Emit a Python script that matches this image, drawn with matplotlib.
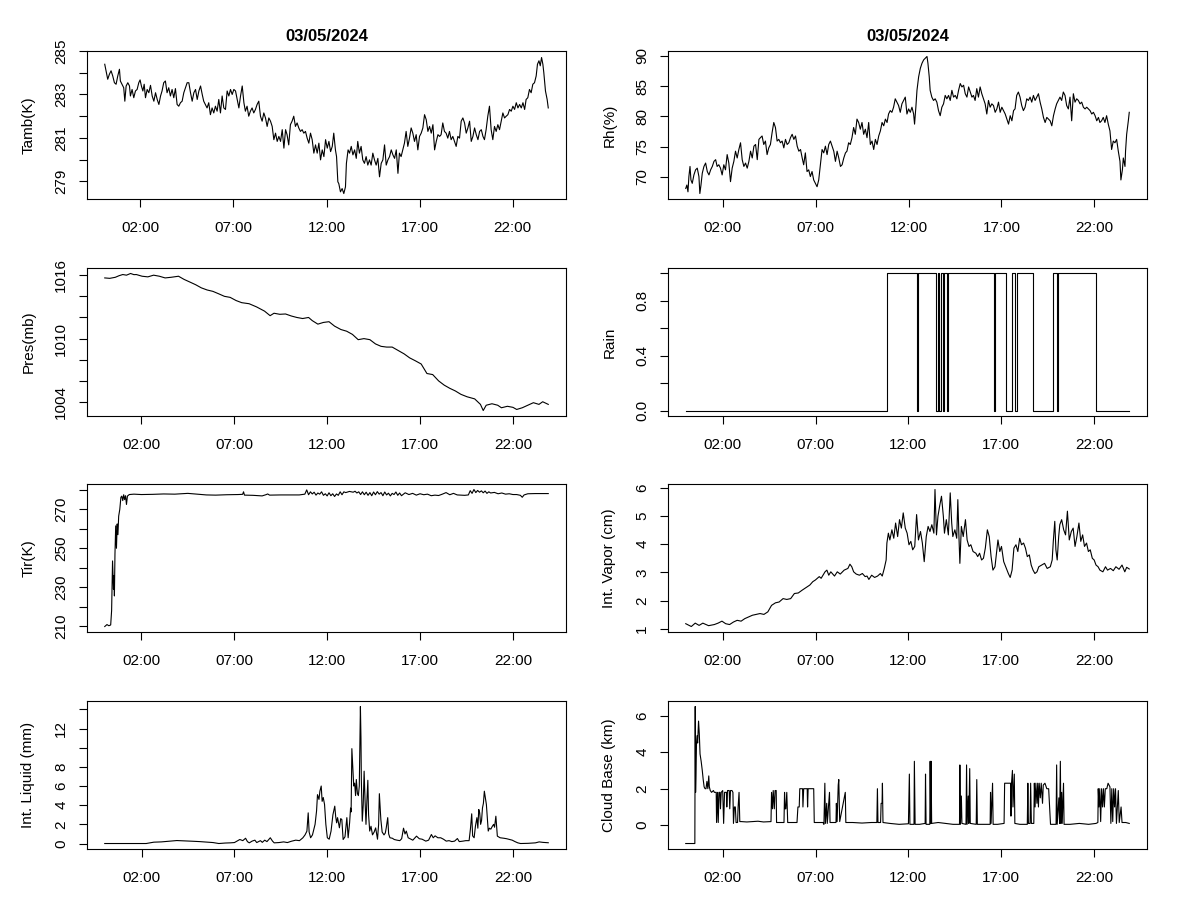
from __future__ import annotations

import matplotlib

matplotlib.use("Agg")
import matplotlib.pyplot as plt

DATE_TITLE = "03/05/2024"
HOUR_TICKS = [2, 7, 12, 17, 22]
HOUR_LABELS = ["02:00", "07:00", "12:00", "17:00", "22:00"]

# ambient temperature (K): (hour, value)
tamb_points = [
    (0.08, 284.39), (0.17, 284.01), (0.24, 283.70), (0.33, 283.93), (0.42, 284.09), (0.51, 283.85),
    (0.60, 283.54), (0.69, 283.47), (0.78, 283.85), (0.87, 284.16), (0.92, 283.62), (1.01, 283.47),
    (1.10, 283.31), (1.16, 282.69), (1.23, 283.39), (1.32, 283.54), (1.41, 283.39), (1.46, 282.93),
    (1.55, 283.23), (1.64, 282.85), (1.73, 283.16), (1.82, 283.23), (1.91, 283.54), (1.98, 283.67),
    (2.05, 283.39), (2.13, 283.16), (2.20, 283.47), (2.27, 282.85), (2.36, 283.23), (2.45, 283.08),
    (2.54, 283.42), (2.63, 282.93), (2.72, 282.69), (2.81, 283.08), (2.90, 282.77), (2.99, 282.54),
    (3.08, 282.93), (3.16, 283.16), (3.25, 283.54), (3.34, 283.62), (3.43, 283.08), (3.52, 283.31),
    (3.61, 282.93), (3.70, 283.23), (3.79, 282.85), (3.88, 283.27), (3.97, 282.54), (4.06, 282.46),
    (4.15, 282.62), (4.24, 282.69), (4.33, 283.08), (4.42, 283.31), (4.51, 283.54), (4.60, 283.54),
    (4.69, 283.08), (4.78, 282.69), (4.87, 283.08), (4.96, 283.23), (5.05, 282.77), (5.14, 283.16),
    (5.23, 283.39), (5.32, 283.00), (5.40, 282.69), (5.49, 282.54), (5.58, 282.38), (5.67, 282.62),
    (5.76, 282.07), (5.85, 282.38), (5.94, 282.15), (6.03, 282.46), (6.12, 282.23), (6.21, 282.77),
    (6.30, 282.15), (6.39, 282.93), (6.48, 282.38), (6.57, 282.31), (6.66, 283.16), (6.75, 282.93),
    (6.84, 283.23), (6.93, 283.00), (7.02, 283.23), (7.11, 283.16), (7.20, 282.77), (7.29, 282.38),
    (7.38, 282.93), (7.47, 283.39), (7.56, 282.62), (7.64, 282.23), (7.73, 282.46), (7.82, 282.00),
    (7.91, 282.23), (8.00, 282.38), (8.09, 282.15), (8.18, 282.31), (8.27, 282.54), (8.36, 282.69),
    (8.45, 282.00), (8.54, 281.77), (8.63, 282.15), (8.72, 281.92), (8.81, 281.53), (8.90, 281.92),
    (8.99, 281.77), (9.08, 281.53), (9.17, 280.92), (9.26, 281.22), (9.35, 280.84), (9.44, 281.07),
    (9.53, 280.84), (9.62, 281.38), (9.71, 280.53), (9.80, 281.38), (9.88, 281.15), (9.97, 280.68),
    (10.06, 281.61), (10.15, 281.77), (10.24, 282.00), (10.33, 281.53), (10.42, 281.69), (10.51, 281.46),
    (10.60, 281.30), (10.69, 281.38), (10.78, 281.22), (10.87, 281.30), (10.96, 280.99), (11.05, 280.76),
    (11.14, 281.22), (11.23, 280.92), (11.32, 280.30), (11.41, 280.68), (11.50, 280.30), (11.59, 280.76),
    (11.68, 279.99), (11.77, 280.45), (11.86, 280.14), (11.95, 280.92), (12.04, 280.53), (12.13, 280.84),
    (12.22, 280.37), (12.31, 280.61), (12.39, 281.22), (12.48, 280.45), (12.54, 280.14), (12.61, 278.98),
    (12.66, 278.90), (12.75, 278.52), (12.84, 278.67), (12.93, 278.44), (13.02, 278.75), (13.07, 279.83),
    (13.16, 280.45), (13.24, 280.30), (13.33, 280.61), (13.42, 280.22), (13.51, 280.45), (13.60, 280.06),
    (13.68, 280.84), (13.77, 280.30), (13.86, 280.61), (13.95, 279.99), (14.04, 279.83), (14.13, 280.14),
    (14.22, 279.75), (14.31, 279.99), (14.40, 279.75), (14.49, 280.30), (14.58, 279.99), (14.67, 279.75),
    (14.76, 280.06), (14.85, 279.21), (14.94, 279.83), (15.03, 279.99), (15.12, 280.68), (15.21, 279.75),
    (15.30, 279.99), (15.39, 280.14), (15.48, 280.45), (15.57, 280.22), (15.66, 280.06), (15.75, 280.45),
    (15.84, 279.37), (15.92, 280.30), (16.01, 280.14), (16.10, 280.45), (16.19, 280.76), (16.28, 281.30),
    (16.37, 280.61), (16.46, 280.99), (16.55, 281.46), (16.64, 281.22), (16.73, 280.84), (16.82, 281.15),
    (16.91, 280.45), (17.00, 281.07), (17.09, 281.22), (17.18, 281.46), (17.27, 282.07), (17.36, 281.84),
    (17.45, 281.30), (17.54, 281.53), (17.63, 281.22), (17.72, 281.61), (17.81, 280.45), (17.90, 280.84),
    (17.99, 281.15), (18.08, 281.07), (18.16, 281.15), (18.25, 281.69), (18.34, 281.30), (18.43, 281.22),
    (18.52, 280.99), (18.61, 281.30), (18.70, 280.92), (18.79, 281.07), (18.88, 280.84), (18.97, 280.61),
    (19.06, 281.07), (19.15, 280.99), (19.24, 281.77), (19.33, 281.92), (19.42, 281.69), (19.51, 281.22),
    (19.60, 281.46), (19.69, 281.77), (19.78, 280.84), (19.87, 281.07), (19.96, 281.46), (20.05, 281.15),
    (20.14, 280.92), (20.23, 281.30), (20.32, 281.38), (20.41, 281.07), (20.49, 280.92), (20.58, 281.38),
    (20.67, 282.00), (20.76, 282.46), (20.85, 281.38), (20.94, 280.92), (21.03, 281.53), (21.12, 281.30),
    (21.21, 281.61), (21.30, 281.38), (21.39, 281.77), (21.48, 282.15), (21.57, 281.92), (21.66, 282.00),
    (21.75, 282.07), (21.84, 282.31), (21.93, 282.23), (22.02, 282.46), (22.11, 282.31), (22.20, 282.62),
    (22.29, 282.38), (22.38, 282.54), (22.47, 282.38), (22.56, 282.62), (22.65, 282.31), (22.73, 282.77),
    (22.82, 282.85), (22.91, 283.23), (23.00, 283.08), (23.09, 283.47), (23.18, 283.54), (23.27, 283.85),
    (23.34, 284.39), (23.42, 284.55), (23.49, 284.32), (23.56, 284.70), (23.63, 284.39), (23.68, 284.01),
    (23.77, 283.16), (23.86, 282.77), (23.92, 282.38),
]

# relative humidity (%): (hour, value)
rh_points = [
    (0.00, 68.10), (0.06, 68.66), (0.12, 67.54), (0.17, 70.06), (0.23, 71.73), (0.28, 69.50),
    (0.35, 68.94), (0.44, 70.33), (0.53, 71.17), (0.62, 71.45), (0.71, 70.06), (0.76, 67.26),
    (0.82, 68.66), (0.89, 70.61), (0.98, 71.73), (1.07, 72.29), (1.16, 70.89), (1.25, 70.33),
    (1.34, 71.17), (1.43, 71.73), (1.52, 72.57), (1.61, 72.85), (1.69, 71.73), (1.78, 72.01),
    (1.87, 71.45), (1.96, 70.33), (2.05, 72.01), (2.14, 71.17), (2.23, 73.69), (2.32, 72.29),
    (2.41, 69.22), (2.50, 71.45), (2.59, 72.57), (2.68, 74.25), (2.77, 73.13), (2.86, 74.53),
    (2.95, 75.64), (3.04, 72.85), (3.13, 71.73), (3.22, 72.29), (3.31, 71.45), (3.40, 72.57),
    (3.49, 74.25), (3.58, 73.13), (3.67, 75.08), (3.76, 75.36), (3.85, 72.85), (3.94, 76.20),
    (4.02, 76.48), (4.11, 76.76), (4.20, 75.36), (4.29, 75.92), (4.38, 73.69), (4.47, 74.80),
    (4.56, 75.36), (4.65, 77.32), (4.74, 78.99), (4.83, 78.16), (4.92, 75.92), (5.01, 76.20),
    (5.10, 75.64), (5.19, 75.92), (5.28, 74.80), (5.37, 76.20), (5.46, 75.36), (5.55, 75.64),
    (5.64, 76.48), (5.73, 77.04), (5.82, 76.20), (5.91, 76.76), (6.00, 75.08), (6.09, 74.25),
    (6.18, 74.53), (6.27, 73.13), (6.35, 72.01), (6.44, 73.97), (6.53, 70.89), (6.62, 71.17),
    (6.71, 70.06), (6.80, 70.89), (6.89, 69.50), (6.98, 68.94), (7.07, 68.38), (7.16, 69.50),
    (7.25, 72.01), (7.34, 74.53), (7.43, 73.97), (7.52, 75.08), (7.61, 73.69), (7.70, 75.36),
    (7.79, 75.92), (7.88, 75.08), (7.97, 74.25), (8.06, 72.57), (8.15, 74.25), (8.24, 73.13),
    (8.33, 71.73), (8.42, 72.01), (8.51, 73.13), (8.60, 73.97), (8.68, 74.25), (8.77, 75.64),
    (8.86, 75.36), (8.95, 76.48), (9.04, 78.16), (9.13, 77.04), (9.22, 79.55), (9.31, 78.99),
    (9.40, 77.88), (9.49, 78.99), (9.58, 77.04), (9.67, 77.88), (9.76, 76.48), (9.85, 78.99),
    (9.94, 75.36), (10.03, 75.92), (10.12, 74.53), (10.21, 76.20), (10.30, 75.36), (10.39, 76.76),
    (10.48, 77.60), (10.57, 78.99), (10.66, 78.44), (10.75, 79.55), (10.84, 78.99), (10.92, 80.39),
    (11.01, 80.95), (11.10, 80.67), (11.19, 81.51), (11.28, 82.90), (11.37, 82.35), (11.46, 81.79),
    (11.55, 80.67), (11.64, 82.07), (11.73, 82.63), (11.82, 83.18), (11.91, 80.39), (12.00, 81.23),
    (12.09, 80.67), (12.18, 81.51), (12.27, 80.39), (12.32, 78.72), (12.39, 81.51), (12.45, 84.30),
    (12.54, 86.54), (12.63, 87.93), (12.72, 88.77), (12.81, 89.33), (12.90, 89.61), (12.99, 89.89),
    (13.04, 88.77), (13.11, 86.54), (13.16, 84.30), (13.25, 83.18), (13.34, 82.63), (13.43, 82.90),
    (13.52, 82.35), (13.61, 80.95), (13.70, 80.11), (13.79, 81.51), (13.88, 82.07), (13.97, 83.46),
    (14.06, 82.90), (14.15, 83.46), (14.24, 82.63), (14.33, 84.30), (14.42, 83.18), (14.51, 83.46),
    (14.60, 82.90), (14.69, 84.30), (14.78, 85.42), (14.87, 84.86), (14.96, 85.14), (15.05, 83.74),
    (15.14, 83.18), (15.23, 84.86), (15.32, 84.02), (15.41, 83.18), (15.49, 83.46), (15.58, 82.63),
    (15.67, 84.58), (15.76, 83.18), (15.85, 84.86), (15.94, 83.74), (16.03, 82.90), (16.12, 82.07),
    (16.21, 80.39), (16.30, 82.63), (16.39, 81.51), (16.48, 82.07), (16.57, 81.79), (16.66, 80.67),
    (16.75, 81.23), (16.84, 82.35), (16.93, 80.67), (17.02, 81.51), (17.11, 80.95), (17.20, 80.39),
    (17.29, 79.55), (17.38, 78.72), (17.47, 80.11), (17.56, 79.27), (17.65, 80.95), (17.73, 81.23),
    (17.82, 83.46), (17.91, 84.02), (18.00, 83.18), (18.09, 81.79), (18.18, 80.95), (18.27, 81.51),
    (18.36, 82.90), (18.45, 82.63), (18.54, 83.18), (18.63, 82.35), (18.72, 83.46), (18.81, 82.63),
    (18.90, 83.18), (18.99, 83.74), (19.08, 82.35), (19.17, 81.23), (19.26, 79.83), (19.35, 78.99),
    (19.44, 79.83), (19.53, 79.55), (19.62, 79.27), (19.71, 78.44), (19.80, 80.11), (19.89, 81.23),
    (19.97, 82.07), (20.06, 82.63), (20.15, 83.18), (20.24, 82.63), (20.33, 84.02), (20.42, 83.46),
    (20.51, 81.79), (20.60, 81.23), (20.69, 83.18), (20.78, 79.27), (20.87, 83.74), (20.96, 82.35),
    (21.05, 82.90), (21.14, 82.63), (21.23, 82.07), (21.32, 82.35), (21.41, 81.51), (21.50, 81.23),
    (21.59, 81.51), (21.68, 81.23), (21.77, 80.95), (21.86, 80.39), (21.95, 80.67), (22.04, 80.11),
    (22.13, 79.27), (22.22, 79.83), (22.30, 78.99), (22.39, 79.27), (22.48, 79.83), (22.57, 78.99),
    (22.66, 80.11), (22.75, 78.72), (22.84, 77.60), (22.93, 74.53), (23.02, 75.92), (23.11, 75.64),
    (23.20, 76.20), (23.29, 74.25), (23.38, 72.57), (23.43, 69.50), (23.51, 71.17), (23.56, 73.13),
    (23.65, 71.73), (23.68, 74.25), (23.74, 77.04), (23.83, 79.27), (23.88, 80.67),
]

# pressure (mb)
pres_hours = [0.03, 0.30, 0.60, 0.80, 1.00, 1.20, 1.42, 1.60, 1.73, 2.04, 2.35, 2.66, 2.97, 3.28, 3.60,
              4.00, 4.30, 4.60, 4.92, 5.23, 5.54, 5.85, 6.16, 6.47, 6.78, 7.10, 7.40, 7.80, 8.20, 8.63,
              8.93, 9.14, 9.45, 9.76, 10.07, 10.37, 10.68, 11.00, 11.20, 11.50, 11.80, 12.10, 12.40,
              12.74, 13.05, 13.36, 13.67, 13.98, 14.30, 14.60, 14.90, 15.20, 15.50, 15.80, 16.14, 16.44,
              16.75, 17.06, 17.37, 17.68, 18.00, 18.30, 18.60, 18.90, 19.20, 19.53, 19.94, 20.25, 20.40,
              20.56, 20.87, 21.18, 21.38, 21.70, 22.00, 22.20, 22.50, 22.80, 23.10, 23.40, 23.60, 23.90]
pres_values = [1015.74, 1015.70, 1015.80, 1015.95, 1016.06, 1016.00, 1016.16, 1016.05, 1016.06, 1015.90,
               1015.84, 1016.00, 1015.90, 1015.74, 1015.80, 1015.90, 1015.60, 1015.36, 1015.10, 1014.80,
               1014.60, 1014.47, 1014.24, 1014.00, 1013.90, 1013.60, 1013.40, 1013.30, 1013.00, 1012.60,
               1012.17, 1012.40, 1012.30, 1012.33, 1012.14, 1012.00, 1011.90, 1012.00, 1011.70, 1011.37,
               1011.53, 1011.60, 1011.18, 1010.86, 1010.70, 1010.40, 1009.90, 1010.00, 1009.90, 1009.50,
               1009.27, 1009.20, 1009.20, 1008.90, 1008.56, 1008.18, 1007.90, 1007.60, 1006.70, 1006.60,
               1006.00, 1005.60, 1005.30, 1005.05, 1004.73, 1004.50, 1004.30, 1003.78, 1003.20, 1003.70,
               1003.84, 1003.70, 1003.46, 1003.60, 1003.50, 1003.30, 1003.46, 1003.70, 1003.94, 1003.78,
               1004.03, 1003.78]

# rain flag
rain_hours = [0.01, 10.84, 10.84, 12.48, 12.48, 12.54, 12.54, 13.51, 13.51, 13.59, 13.59, 13.67, 13.67,
              13.73, 13.73, 13.84, 13.84, 13.90, 13.90, 14.05, 14.05, 14.12, 14.12, 16.60, 16.60, 16.67,
              16.67, 17.27, 17.27, 17.58, 17.58, 17.75, 17.75, 17.85, 17.85, 18.73, 18.73, 19.78, 19.78,
              19.98, 19.98, 20.05, 20.05, 22.10, 22.10, 23.89]
rain_values = [0, 0, 1, 1, 0, 0, 1, 1, 0, 0, 1, 1, 0, 0, 1, 1, 0, 0, 1, 1, 0, 0, 1, 1, 0, 0, 1, 1, 0, 0,
               1, 1, 0, 0, 1, 1, 0, 0, 1, 1, 0, 0, 1, 1, 0, 0]

# infrared temperature (K)
tir_hours = [0.03, 0.15, 0.25, 0.35, 0.40, 0.45, 0.50, 0.53, 0.55, 0.58, 0.62, 0.66, 0.70, 0.74, 0.78,
             0.84, 0.90, 0.95, 1.00, 1.05, 1.10, 1.15, 1.20, 1.25, 1.35, 1.60, 2.00, 2.60, 3.20, 3.80,
             4.50, 5.00, 5.50, 6.00, 6.60, 7.20, 7.45, 7.50, 7.55, 8.00, 8.50, 8.70, 8.80, 8.90, 9.50,
             10.00, 10.50, 10.80, 10.90, 11.00, 11.10, 11.20, 11.30, 11.40, 11.50, 11.60, 11.70, 11.80,
             11.90, 12.00, 12.10, 12.20, 12.30, 12.40, 12.50, 12.60, 12.70, 12.80, 12.90, 13.00, 13.20,
             13.40, 13.50, 13.60, 13.70, 13.80, 13.90, 14.00, 14.10, 14.20, 14.30, 14.40, 14.50, 14.60,
             14.70, 14.80, 14.90, 15.00, 15.10, 15.20, 15.30, 15.40, 15.50, 15.60, 15.70, 15.80, 15.90,
             16.00, 16.20, 16.40, 16.60, 16.80, 17.00, 17.20, 17.40, 17.60, 17.80, 18.00, 18.20, 18.40,
             18.60, 18.80, 19.00, 19.20, 19.40, 19.60, 19.70, 19.80, 19.90, 20.00, 20.10, 20.20, 20.30,
             20.40, 20.50, 20.60, 20.70, 20.80, 21.00, 21.20, 21.40, 21.60, 21.80, 22.00, 22.20, 22.40,
             22.50, 22.60, 22.80, 23.20, 23.60, 23.90]
tir_values = [209.8, 210.8, 210.2, 210.6, 218.0, 243.5, 229.0, 236.0, 225.5, 247.0, 261.5, 250.0, 262.5,
              257.0, 266.5, 270.0, 276.2, 276.8, 274.5, 277.5, 275.0, 277.0, 272.5, 276.8, 277.6, 277.8,
              277.6, 277.7, 277.9, 277.8, 278.2, 277.8, 277.4, 277.3, 277.5, 277.6, 277.7, 279.0, 277.3,
              277.2, 276.9, 277.5, 277.9, 277.3, 277.4, 277.4, 277.4, 277.8, 280.0, 277.5, 279.0, 277.9,
              278.8, 277.3, 278.4, 277.8, 279.0, 277.2, 278.0, 276.9, 278.5, 277.0, 278.0, 276.6, 277.9,
              277.2, 279.0, 277.5, 279.0, 278.6, 279.2, 278.8, 279.3, 278.4, 279.0, 277.6, 279.0, 277.5,
              278.8, 277.2, 278.6, 277.0, 278.9, 277.5, 279.1, 277.8, 278.6, 277.0, 278.9, 277.4, 278.3,
              276.9, 278.2, 277.6, 278.9, 277.2, 278.4, 277.0, 278.5, 277.6, 278.2, 277.3, 278.0, 277.5,
              277.8, 277.0, 277.3, 277.1, 277.8, 278.6, 277.5, 278.2, 277.4, 277.3, 277.2, 277.4, 279.6,
              278.2, 280.2, 278.6, 279.7, 278.8, 279.5, 278.5, 279.4, 278.2, 279.0, 278.4, 278.7, 278.0,
              278.4, 277.8, 278.0, 277.6, 277.6, 277.2, 276.2, 277.4, 278.0, 278.1, 278.1, 278.1]

# integrated vapor (cm)
vap_hours = [0.01, 0.31, 0.52, 0.73, 0.93, 1.24, 1.55, 1.75, 1.96, 2.16, 2.37, 2.58, 2.78, 2.99, 3.19,
             3.40, 3.60, 3.81, 4.01, 4.22, 4.43, 4.63, 4.84, 5.04, 5.25, 5.45, 5.66, 5.86, 6.07, 6.28,
             6.48, 6.69, 6.85, 6.99, 7.20, 7.30, 7.51, 7.61, 7.71, 7.82, 8.02, 8.17, 8.33, 8.54, 8.74,
             8.85, 8.95, 9.05, 9.19, 9.36, 9.52, 9.67, 9.77, 9.87, 10.02, 10.18, 10.34, 10.49, 10.59,
             10.70, 10.80, 10.84, 10.92, 11.00, 11.11, 11.21, 11.31, 11.42, 11.52, 11.62, 11.72, 11.83,
             11.93, 12.03, 12.13, 12.23, 12.34, 12.44, 12.54, 12.65, 12.75, 12.85, 12.96, 13.06, 13.16,
             13.26, 13.37, 13.43, 13.51, 13.59, 13.68, 13.78, 13.88, 13.94, 14.04, 14.15, 14.25, 14.33,
             14.39, 14.50, 14.60, 14.66, 14.72, 14.77, 14.85, 14.95, 15.07, 15.16, 15.26, 15.36, 15.48,
             15.63, 15.73, 15.83, 15.94, 16.04, 16.14, 16.25, 16.35, 16.45, 16.55, 16.66, 16.76, 16.82,
             16.92, 17.01, 17.13, 17.27, 17.38, 17.48, 17.58, 17.68, 17.79, 17.89, 17.99, 18.09, 18.20,
             18.30, 18.40, 18.51, 18.61, 18.71, 18.81, 18.92, 19.02, 19.18, 19.33, 19.47, 19.64, 19.74,
             19.80, 19.88, 19.94, 20.01, 20.09, 20.15, 20.25, 20.36, 20.46, 20.56, 20.66, 20.77, 20.87,
             20.97, 21.07, 21.18, 21.28, 21.38, 21.48, 21.59, 21.69, 21.79, 21.90, 22.00, 22.10, 22.21,
             22.31, 22.47, 22.61, 22.72, 22.88, 23.03, 23.17, 23.34, 23.50, 23.65, 23.75, 23.89]
vap_values = [1.18, 1.08, 1.20, 1.12, 1.20, 1.11, 1.15, 1.20, 1.27, 1.18, 1.15, 1.24, 1.30, 1.27, 1.36,
              1.42, 1.48, 1.51, 1.54, 1.51, 1.60, 1.83, 1.92, 1.95, 2.07, 2.04, 2.07, 2.25, 2.27, 2.37,
              2.46, 2.55, 2.67, 2.73, 2.85, 2.79, 3.02, 3.08, 2.90, 3.02, 2.87, 3.02, 2.94, 3.08, 3.14,
              3.29, 3.20, 3.02, 2.94, 2.90, 2.96, 2.85, 2.87, 2.75, 2.90, 2.82, 2.87, 2.96, 2.87, 3.14,
              3.44, 4.04, 4.39, 4.15, 4.51, 4.21, 4.75, 4.27, 4.87, 4.57, 5.11, 4.57, 4.39, 3.98, 4.10,
              3.80, 3.92, 5.05, 4.15, 4.45, 4.04, 3.38, 4.27, 4.63, 4.45, 4.69, 4.39, 5.94, 4.33, 4.99,
              5.35, 5.70, 4.99, 4.39, 4.87, 4.33, 5.82, 4.75, 4.27, 4.51, 4.21, 5.58, 4.27, 3.32, 4.63,
              4.27, 4.87, 4.15, 3.92, 3.98, 3.74, 3.68, 3.56, 3.68, 3.44, 3.50, 3.86, 4.51, 4.27, 3.56,
              3.08, 3.20, 3.80, 4.15, 3.74, 3.92, 3.38, 3.14, 2.96, 2.82, 3.08, 3.86, 3.98, 3.74, 4.21,
              3.98, 4.04, 3.86, 3.56, 3.62, 3.26, 3.08, 2.96, 3.02, 3.20, 3.26, 3.32, 3.14, 3.20, 3.44,
              4.10, 4.81, 3.80, 3.44, 4.27, 4.69, 4.87, 4.51, 4.33, 5.17, 4.15, 4.45, 4.57, 3.92, 4.27,
              4.75, 4.10, 4.33, 3.92, 4.04, 3.74, 3.80, 3.50, 3.44, 3.26, 3.20, 3.08, 3.02, 3.20, 3.08,
              3.14, 3.06, 3.20, 3.11, 3.26, 3.02, 3.18, 3.12]

# integrated liquid (mm)
liq_hours = [0.02, 1.00, 2.25, 2.66, 3.07, 3.48, 3.90, 4.30, 4.72, 5.13, 5.54, 5.85, 6.16, 6.50, 6.78,
             7.00, 7.29, 7.45, 7.60, 7.70, 7.80, 7.95, 8.10, 8.20, 8.40, 8.50, 8.63, 8.75, 8.93, 9.05,
             9.14, 9.40, 9.65, 9.85, 10.07, 10.30, 10.50, 10.68, 10.80, 10.90, 10.97, 11.02, 11.10,
             11.20, 11.34, 11.42, 11.47, 11.55, 11.60, 11.67, 11.72, 11.78, 11.85, 11.92, 12.00, 12.10,
             12.20, 12.30, 12.40, 12.45, 12.50, 12.55, 12.65, 12.72, 12.78, 12.85, 12.95, 13.05, 13.12,
             13.20, 13.25, 13.28, 13.32, 13.37, 13.42, 13.47, 13.52, 13.56, 13.62, 13.67, 13.72, 13.78,
             13.81, 13.83, 13.88, 13.93, 13.98, 14.03, 14.08, 14.13, 14.18, 14.22, 14.28, 14.35, 14.43,
             14.52, 14.60, 14.70, 14.76, 14.80, 14.88, 14.95, 15.05, 15.12, 15.17, 15.25, 15.30, 15.37,
             15.50, 15.60, 15.75, 15.90, 16.00, 16.10, 16.18, 16.25, 16.35, 16.60, 16.80, 16.95, 17.10,
             17.30, 17.45, 17.60, 17.70, 17.80, 17.95, 18.10, 18.25, 18.40, 18.55, 18.70, 18.85, 19.00,
             19.10, 19.30, 19.45, 19.63, 19.70, 19.77, 19.82, 19.90, 19.97, 20.05, 20.10, 20.15, 20.20,
             20.25, 20.30, 20.35, 20.40, 20.45, 20.50, 20.56, 20.62, 20.66, 20.72, 20.80, 20.88, 20.95,
             21.00, 21.07, 21.12, 21.15, 21.30, 21.50, 21.65, 21.80, 21.95, 22.10, 22.25, 22.40, 22.80,
             23.20, 23.40, 23.60, 23.75, 23.89]
liq_values = [0.0, 0.0, 0.0, 0.14, 0.17, 0.24, 0.31, 0.28, 0.24, 0.20, 0.14, 0.10, 0.0, 0.05, 0.07, 0.10,
              0.42, 0.30, 0.55, 0.20, 0.07, 0.25, 0.35, 0.10, 0.30, 0.12, 0.35, 0.20, 0.60, 0.25, 0.07,
              0.10, 0.17, 0.10, 0.24, 0.35, 0.30, 0.59, 0.90, 1.29, 3.20, 1.20, 0.60, 0.90, 2.00, 3.40,
              5.10, 4.60, 5.46, 6.00, 4.40, 4.80, 4.07, 2.00, 0.60, 0.45, 1.30, 3.00, 3.90, 2.80, 2.16,
              2.70, 1.64, 2.60, 2.50, 0.42, 0.70, 2.70, 0.60, 2.20, 3.70, 3.30, 9.90, 8.00, 6.00, 6.30,
              5.00, 6.68, 5.20, 5.00, 6.00, 14.30, 11.00, 6.68, 2.33, 4.00, 7.55, 4.50, 2.00, 4.50, 6.60,
              3.00, 1.30, 1.80, 0.90, 1.20, 1.63, 0.45, 2.00, 5.20, 2.50, 1.20, 0.90, 1.10, 1.63, 2.70,
              1.00, 0.60, 0.55, 0.42, 0.35, 0.30, 0.50, 1.60, 1.00, 1.30, 0.60, 0.35, 0.77, 0.50, 0.45,
              0.25, 0.35, 0.94, 0.60, 0.80, 0.60, 0.60, 0.45, 0.25, 0.30, 0.20, 0.25, 0.52, 0.20, 0.25,
              0.30, 0.30, 1.50, 3.10, 0.80, 0.60, 1.80, 2.70, 1.60, 3.55, 3.20, 2.00, 2.40, 3.72, 4.20,
              5.46, 4.80, 4.07, 2.50, 1.30, 1.60, 1.50, 1.80, 2.00, 1.70, 2.85, 1.50, 0.77, 0.60, 0.55,
              0.50, 0.42, 0.35, 0.20, 0.07, 0.0, 0.02, 0.07, 0.17, 0.12, 0.10, 0.08]

# cloud base height (km)
cloud_hours = [0.01, 0.50, 0.52, 0.54, 0.56, 0.59, 0.62, 0.65, 0.70, 0.74, 0.78, 0.84, 0.90, 0.95, 1.00,
               1.05, 1.10, 1.15, 1.20, 1.25, 1.28, 1.33, 1.40, 1.50, 1.55, 1.65, 1.67, 1.72, 1.76, 1.80,
               1.85, 1.88, 1.92, 2.00, 2.05, 2.10, 2.20, 2.22, 2.26, 2.35, 2.38, 2.42, 2.50, 2.55, 2.58,
               2.63, 2.68, 2.72, 2.80, 2.83, 2.88, 2.92, 3.00, 3.30, 3.60, 3.90, 4.20, 4.60, 4.63, 4.68,
               4.72, 4.78, 4.82, 4.88, 4.90, 5.30, 5.33, 5.36, 5.40, 5.45, 5.50, 6.00, 6.05, 6.12, 6.15,
               6.30, 6.32, 6.36, 6.55, 6.57, 6.60, 6.90, 6.93, 7.40, 7.45, 7.50, 7.53, 7.60, 7.63, 7.75,
               7.78, 8.10, 8.12, 8.16, 8.22, 8.25, 8.30, 8.60, 8.63, 9.00, 9.50, 10.00, 10.30, 10.33,
               10.36, 10.50, 10.53, 10.58, 10.60, 10.63, 11.00, 11.50, 12.00, 12.05, 12.08, 12.30, 12.32,
               12.36, 12.60, 12.90, 12.92, 12.95, 13.15, 13.17, 13.20, 13.22, 13.25, 13.60, 14.00, 14.40,
               14.75, 14.77, 14.80, 14.85, 14.88, 15.10, 15.13, 15.16, 15.22, 15.25, 15.30, 15.33, 15.65,
               15.68, 15.71, 16.30, 16.40, 16.42, 16.45, 16.50, 16.53, 16.56, 16.80, 17.15, 17.18, 17.50,
               17.52, 17.55, 17.60, 17.63, 17.70, 17.73, 18.00, 18.40, 18.43, 18.46, 18.55, 18.58, 18.62,
               18.75, 18.78, 18.82, 18.86, 18.92, 18.96, 19.00, 19.04, 19.10, 19.15, 19.22, 19.26, 19.35,
               19.45, 19.55, 19.60, 19.65, 19.95, 19.98, 20.01, 20.10, 20.14, 20.18, 20.21, 20.25, 20.28,
               20.35, 20.38, 20.70, 21.20, 21.70, 22.10, 22.20, 22.22, 22.26, 22.30, 22.35, 22.40, 22.45,
               22.50, 22.55, 22.60, 22.68, 22.75, 22.85, 22.90, 22.95, 23.00, 23.05, 23.10, 23.15, 23.20,
               23.30, 23.35, 23.45, 23.50, 23.70, 23.89]
cloud_values = [-1.0, -1.0, 6.5, 1.8, 2.7, 4.5, 4.9, 4.5, 5.7, 5.0, 3.9, 3.5, 3.0, 2.5, 2.1, 2.0, 2.0, 2.4,
                2.0, 2.7, 2.1, 1.9, 1.8, 1.9, 1.8, 1.8, 0.15, 1.8, 0.15, 1.8, 1.8, 0.9, 1.8, 1.9, 0.1,
                1.8, 1.8, 1.0, 1.9, 1.9, 0.9, 1.9, 1.9, 1.8, 0.1, 1.0, 1.0, 0.15, 0.15, 1.0, 1.8, 0.2,
                0.2, 0.18, 0.2, 0.22, 0.18, 0.2, 1.8, 0.9, 1.9, 0.9, 1.9, 1.9, 0.15, 0.15, 1.8, 0.9, 0.9,
                1.8, 0.15, 0.15, 1.0, 1.0, 2.0, 2.0, 1.0, 2.0, 2.0, 1.0, 2.0, 2.0, 0.15, 0.15, 0.05, 2.3,
                0.1, 1.2, 0.1, 1.8, 0.15, 0.15, 1.2, 0.2, 2.2, 2.5, 0.2, 1.8, 0.15, 0.15, 0.12, 0.15,
                0.15, 2.0, 0.15, 0.15, 1.2, 1.2, 2.3, 0.15, 0.1, 0.05, 0.08, 2.8, 0.05, 0.05, 3.5, 0.05,
                0.05, 0.1, 2.8, 0.05, 0.05, 3.5, 0.1, 3.5, 0.1, 0.15, 0.1, 0.05, 0.05, 3.3, 0.05, 1.6,
                0.1, 0.05, 3.3, 0.05, 1.6, 0.1, 3.1, 0.1, 0.05, 2.5, 0.05, 0.05, 0.05, 1.8, 0.1, 1.5,
                2.3, 0.05, 0.05, 0.1, 2.3, 2.3, 0.5, 2.3, 3.0, 1.0, 2.8, 0.1, 0.05, 0.05, 2.3, 0.1, 0.1,
                2.3, 0.1, 0.1, 2.3, 1.0, 2.3, 1.2, 2.3, 1.0, 2.3, 1.5, 2.3, 1.2, 2.2, 2.3, 2.0, 2.0, 1.0,
                0.05, 0.05, 3.3, 0.05, 1.5, 0.1, 3.5, 0.1, 1.8, 0.1, 2.3, 0.05, 0.05, 0.1, 0.05, 0.1,
                0.15, 2.0, 1.0, 2.0, 0.2, 2.0, 1.0, 2.0, 1.0, 2.0, 2.0, 2.3, 2.1, 0.1, 2.0, 0.2, 2.0, 1.0,
                2.0, 0.1, 1.9, 0.15, 1.0, 0.15, 0.15, 0.1]

FONT = ["Liberation Sans", "DejaVu Sans"]
LEFT_X, RIGHT_X = 87 / 1200, 668 / 1200
AX_W = 479 / 1200
AX_H = 148 / 900
ROW_BOTTOMS = [1 - 199 / 900, 1 - 416 / 900, 1 - 632 / 900, 1 - 849 / 900]


def draw_panel(fig, col_x, row, hours, values, ylabel, yticks, ylabels, title=None):
    ax = fig.add_axes([col_x, ROW_BOTTOMS[row], AX_W, AX_H])
    ax.plot(hours, values, color="black", linewidth=0.8)
    ax.margins(x=0.04, y=0.04)

    ax.set_xticks(HOUR_TICKS)
    ax.set_xticklabels(HOUR_LABELS)
    ax.set_yticks(yticks)
    ax.set_yticklabels(ylabels, rotation=90, va="center")
    ax.tick_params(direction="out", length=5.5, width=0.8, labelsize=11)
    ax.tick_params(axis="x", pad=10)
    ax.tick_params(axis="y", pad=8)

    ax.set_ylabel(ylabel, fontsize=11)
    ax.yaxis.set_label_coords(-0.108, 0.5)
    for spine in ax.spines.values():
        spine.set_linewidth(0.8)
    if title:
        ax.set_title(title, fontsize=12, fontweight="bold", pad=7)
    return ax


def main() -> None:
    plt.rcParams["font.family"] = FONT
    fig = plt.figure(figsize=(12, 9), dpi=100)

    tamb_hours, tamb_values = zip(*tamb_points)
    rh_hours, rh_values = zip(*rh_points)

    draw_panel(fig, LEFT_X, 0, tamb_hours, tamb_values, "Tamb(K)",
               [279, 280, 281, 282, 283, 284, 285], ["279", "", "281", "", "283", "", "285"],
               title=DATE_TITLE)
    draw_panel(fig, RIGHT_X, 0, rh_hours, rh_values, "Rh(%)",
               [70, 75, 80, 85, 90], ["70", "75", "80", "85", "90"], title=DATE_TITLE)
    draw_panel(fig, LEFT_X, 1, pres_hours, pres_values, "Pres(mb)",
               [1004, 1006, 1008, 1010, 1012, 1014, 1016], ["1004", "", "", "1010", "", "", "1016"])
    draw_panel(fig, RIGHT_X, 1, rain_hours, rain_values, "Rain",
               [0, 0.2, 0.4, 0.6, 0.8, 1.0], ["0.0", "", "0.4", "", "0.8", ""])
    draw_panel(fig, LEFT_X, 2, tir_hours, tir_values, "Tir(K)",
               [210, 220, 230, 240, 250, 260, 270, 280], ["210", "", "230", "", "250", "", "270", ""])
    draw_panel(fig, RIGHT_X, 2, vap_hours, vap_values, "Int. Vapor (cm)",
               [1, 2, 3, 4, 5, 6], ["1", "2", "3", "4", "5", "6"])
    draw_panel(fig, LEFT_X, 3, liq_hours, liq_values, "Int. Liquid (mm)",
               [0, 2, 4, 6, 8, 10, 12, 14], ["0", "2", "4", "6", "8", "", "12", ""])
    draw_panel(fig, RIGHT_X, 3, cloud_hours, cloud_values, "Cloud Base (km)",
               [0, 2, 4, 6], ["0", "2", "4", "6"])

    fig.savefig("out.png", dpi=100)
    plt.close(fig)


if __name__ == "__main__":
    main()
